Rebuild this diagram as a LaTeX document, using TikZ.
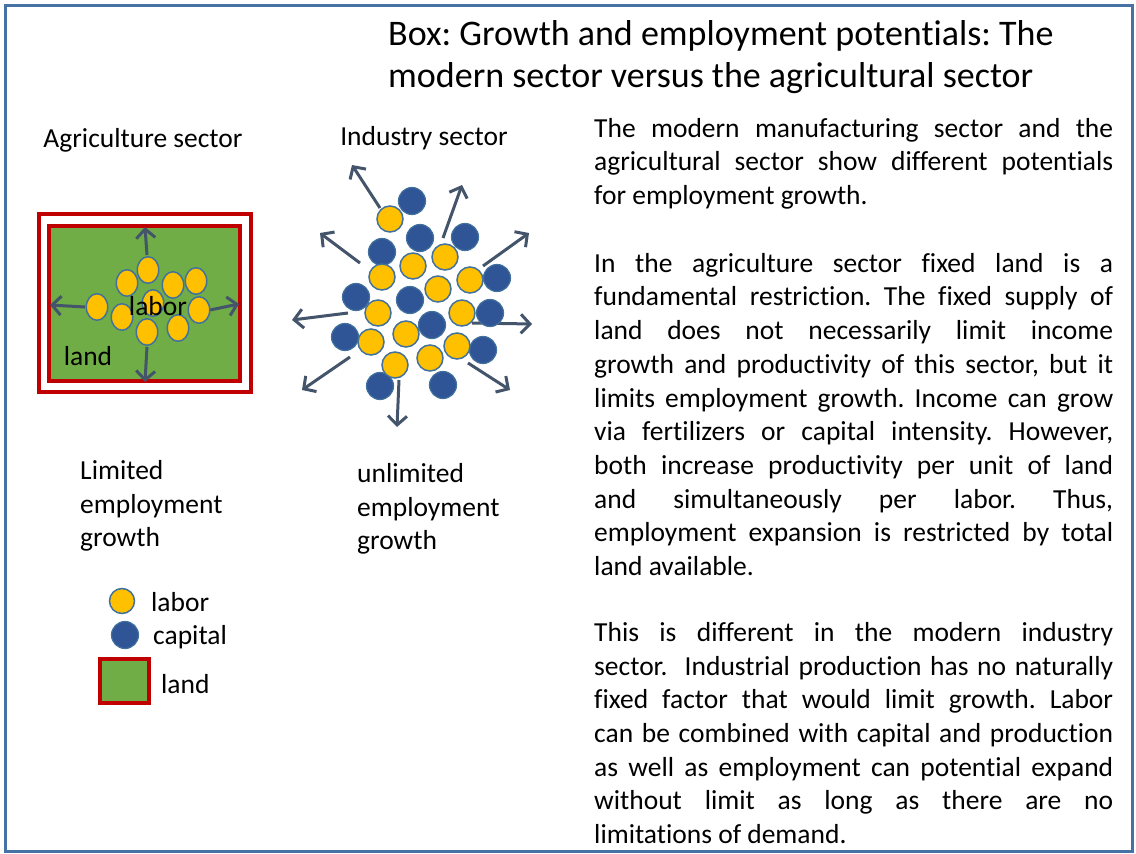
\documentclass[tikz,border=0pt]{standalone}
\usepackage{fontspec}
\setmainfont{Carlito}[Ligatures=NoCommon]
\usetikzlibrary{arrows.meta,shapes.geometric}

\definecolor{framebl}{RGB}{70,114,166}
\definecolor{arrowgr}{RGB}{68,84,106}
\definecolor{laborgd}{RGB}{255,192,0}
\definecolor{capitalbl}{RGB}{47,85,151}
\definecolor{edgebl}{RGB}{65,113,156}
\definecolor{landgr}{RGB}{112,173,71}
\definecolor{landrd}{RGB}{192,0,0}

\begin{document}
\frenchspacing
\begin{tikzpicture}[
    x=1pt, y=-1pt,
    txt/.style={font=\fontsize{27.5}{33.7}\selectfont, inner sep=0pt},
    para/.style={txt, anchor=north west, text width=519pt, align=justify,
        execute at begin node={\tolerance=10000\hyphenpenalty=10000}},
    labor/.style={ellipse, draw=edgebl, line width=1.5pt, fill=laborgd, minimum width=21.5pt, minimum height=26.5pt, inner sep=0pt},
    worker/.style={circle, draw=edgebl, line width=1.5pt, fill=laborgd, minimum size=26pt, inner sep=0pt},
    capital/.style={circle, draw=edgebl, line width=1.2pt, fill=capitalbl, minimum size=27pt, inner sep=0pt},
    growarrow/.style={draw=arrowgr, line width=3pt, -{Straight Barb[length=9pt,width=19pt]}},
    landbox/.style={draw=landrd, line width=4pt, fill=landgr}
]
\useasboundingbox (0,0) rectangle (1136,854);
\draw[framebl, line width=3pt] (5,5) rectangle (1132,851);

% --- Title ---
\node[anchor=north west, inner sep=0pt, align=left, font=\fontsize{36}{42}\selectfont] (title) at (388,20)
    {Box: Growth and employment potentials: The\\modern sector versus the agricultural sector};

% --- Agriculture sector ---
\node[txt] (agrihead) at (143,140) {Agriculture sector};
\draw[landrd, line width=4pt] (39,214) rectangle (251,392);
\draw[landbox] (49,226) rectangle (240,381);

% Growth arrows (land)
\draw[growarrow] (147,255) -- (145,227);
\draw[growarrow] (147,347) -- (145,382);
\draw[growarrow] (85,307) -- (50,305);
\draw[growarrow] (210,310) -- (239,304);

% Labor on land
\node[labor] (l1) at (148,270) {};
\node[labor] (l2) at (127,283) {};
\node[labor] (l3) at (173,285) {};
\node[labor] (l4) at (196,281) {};
\node[labor] (l5) at (97,307) {};
\node[labor] (l6) at (153,303) {};
\node[labor] (l7) at (199,310) {};
\node[labor] (l8) at (122,317) {};
\node[labor] (l9) at (147,332) {};
\node[labor] (l10) at (178,328) {};
\node[txt] (laborin) at (158,306) {labor};
\node[txt] (landin) at (88,356) {land};

\node[txt, anchor=north west, align=left] (limited) at (80,460) {Limited\\employment\\growth};

% --- Industry sector ---
\node[txt] (indhead) at (424,138) {Industry sector};

% Growth arrows (industry)
\draw[growarrow] (380,208) -- (352,165);
\draw[growarrow] (443,238) -- (462,185);
\draw[growarrow] (360,263) -- (320,233);
\draw[growarrow] (483,266) -- (529,233);
\draw[growarrow] (348,313) -- (292,320);
\draw[growarrow] (472,323) -- (532,324);
\draw[growarrow] (350,357) -- (302,390);
\draw[growarrow] (468,363) -- (510,390);
\draw[growarrow] (399,380) -- (397,427);

% Capital
\node[capital] (k1) at (412,201) {};
\node[capital] (k2) at (420,238) {};
\node[capital] (k3) at (465,237) {};
\node[capital] (k4) at (382,252) {};
\node[capital] (k5) at (497,278) {};
\node[capital] (k6) at (356,297) {};
\node[capital] (k7) at (410,300) {};
\node[capital] (k8) at (490,313) {};
\node[capital] (k9) at (432,325) {};
\node[capital] (k10) at (345,337) {};
\node[capital] (k11) at (483,350) {};
\node[capital] (k12) at (380,386) {};
\node[capital] (k13) at (443,385) {};

% Workers
\node[worker] (w1) at (390,219) {};
\node[worker] (w2) at (445,257) {};
\node[worker] (w3) at (413,266) {};
\node[worker] (w4) at (382,277) {};
\node[worker] (w5) at (470,280) {};
\node[worker] (w6) at (438,289) {};
\node[worker] (w7) at (378,313) {};
\node[worker] (w8) at (462,313) {};
\node[worker] (w9) at (406,334) {};
\node[worker] (w10) at (371,342) {};
\node[worker] (w11) at (457,346) {};
\node[worker] (w12) at (430,358) {};
\node[worker] (w13) at (395,365) {};

\node[txt, anchor=north west, align=left] (unlimited) at (357,463) {unlimited\\employment\\growth};

% --- Legend ---
\node[worker, minimum size=25pt] (keylabor) at (122,601) {};
\node[capital] (keycapital) at (125,635) {};
\draw[landbox] (100,659) rectangle (149,703);
\node[txt, anchor=west] (keylabortxt) at (151,602) {labor};
\node[txt, anchor=west] (keycapitaltxt) at (153,637) {capital};
\node[txt, anchor=west] (keylandtxt) at (161,684) {land};

% --- Text ---
\node[para] (para1) at (594,118) {The modern manufacturing sector and the\linebreak
agricultural sector show different potentials\linebreak
for employment growth.};
\node[para] (para2) at (594,253) {In the agriculture sector fixed land is a\linebreak
fundamental restriction. The fixed supply of\linebreak
land does not necessarily limit income\linebreak
growth and productivity of this sector, but it\linebreak
limits employment growth. Income can grow\linebreak
via fertilizers or capital intensity. However,\linebreak
both increase productivity per unit of land\linebreak
and simultaneously per labor. Thus,\linebreak
employment expansion is restricted by total\linebreak
land available.};
\node[para] (para3) at (594,622) {This is different in the modern industry\linebreak
sector.\ \ Industrial production has no naturally\linebreak
fixed factor that would limit growth. Labor\linebreak
can be combined with capital and production\linebreak
as well as employment can potential expand\linebreak
without limit as long as there are no\linebreak
limitations of demand.};

\end{tikzpicture}
\end{document}
